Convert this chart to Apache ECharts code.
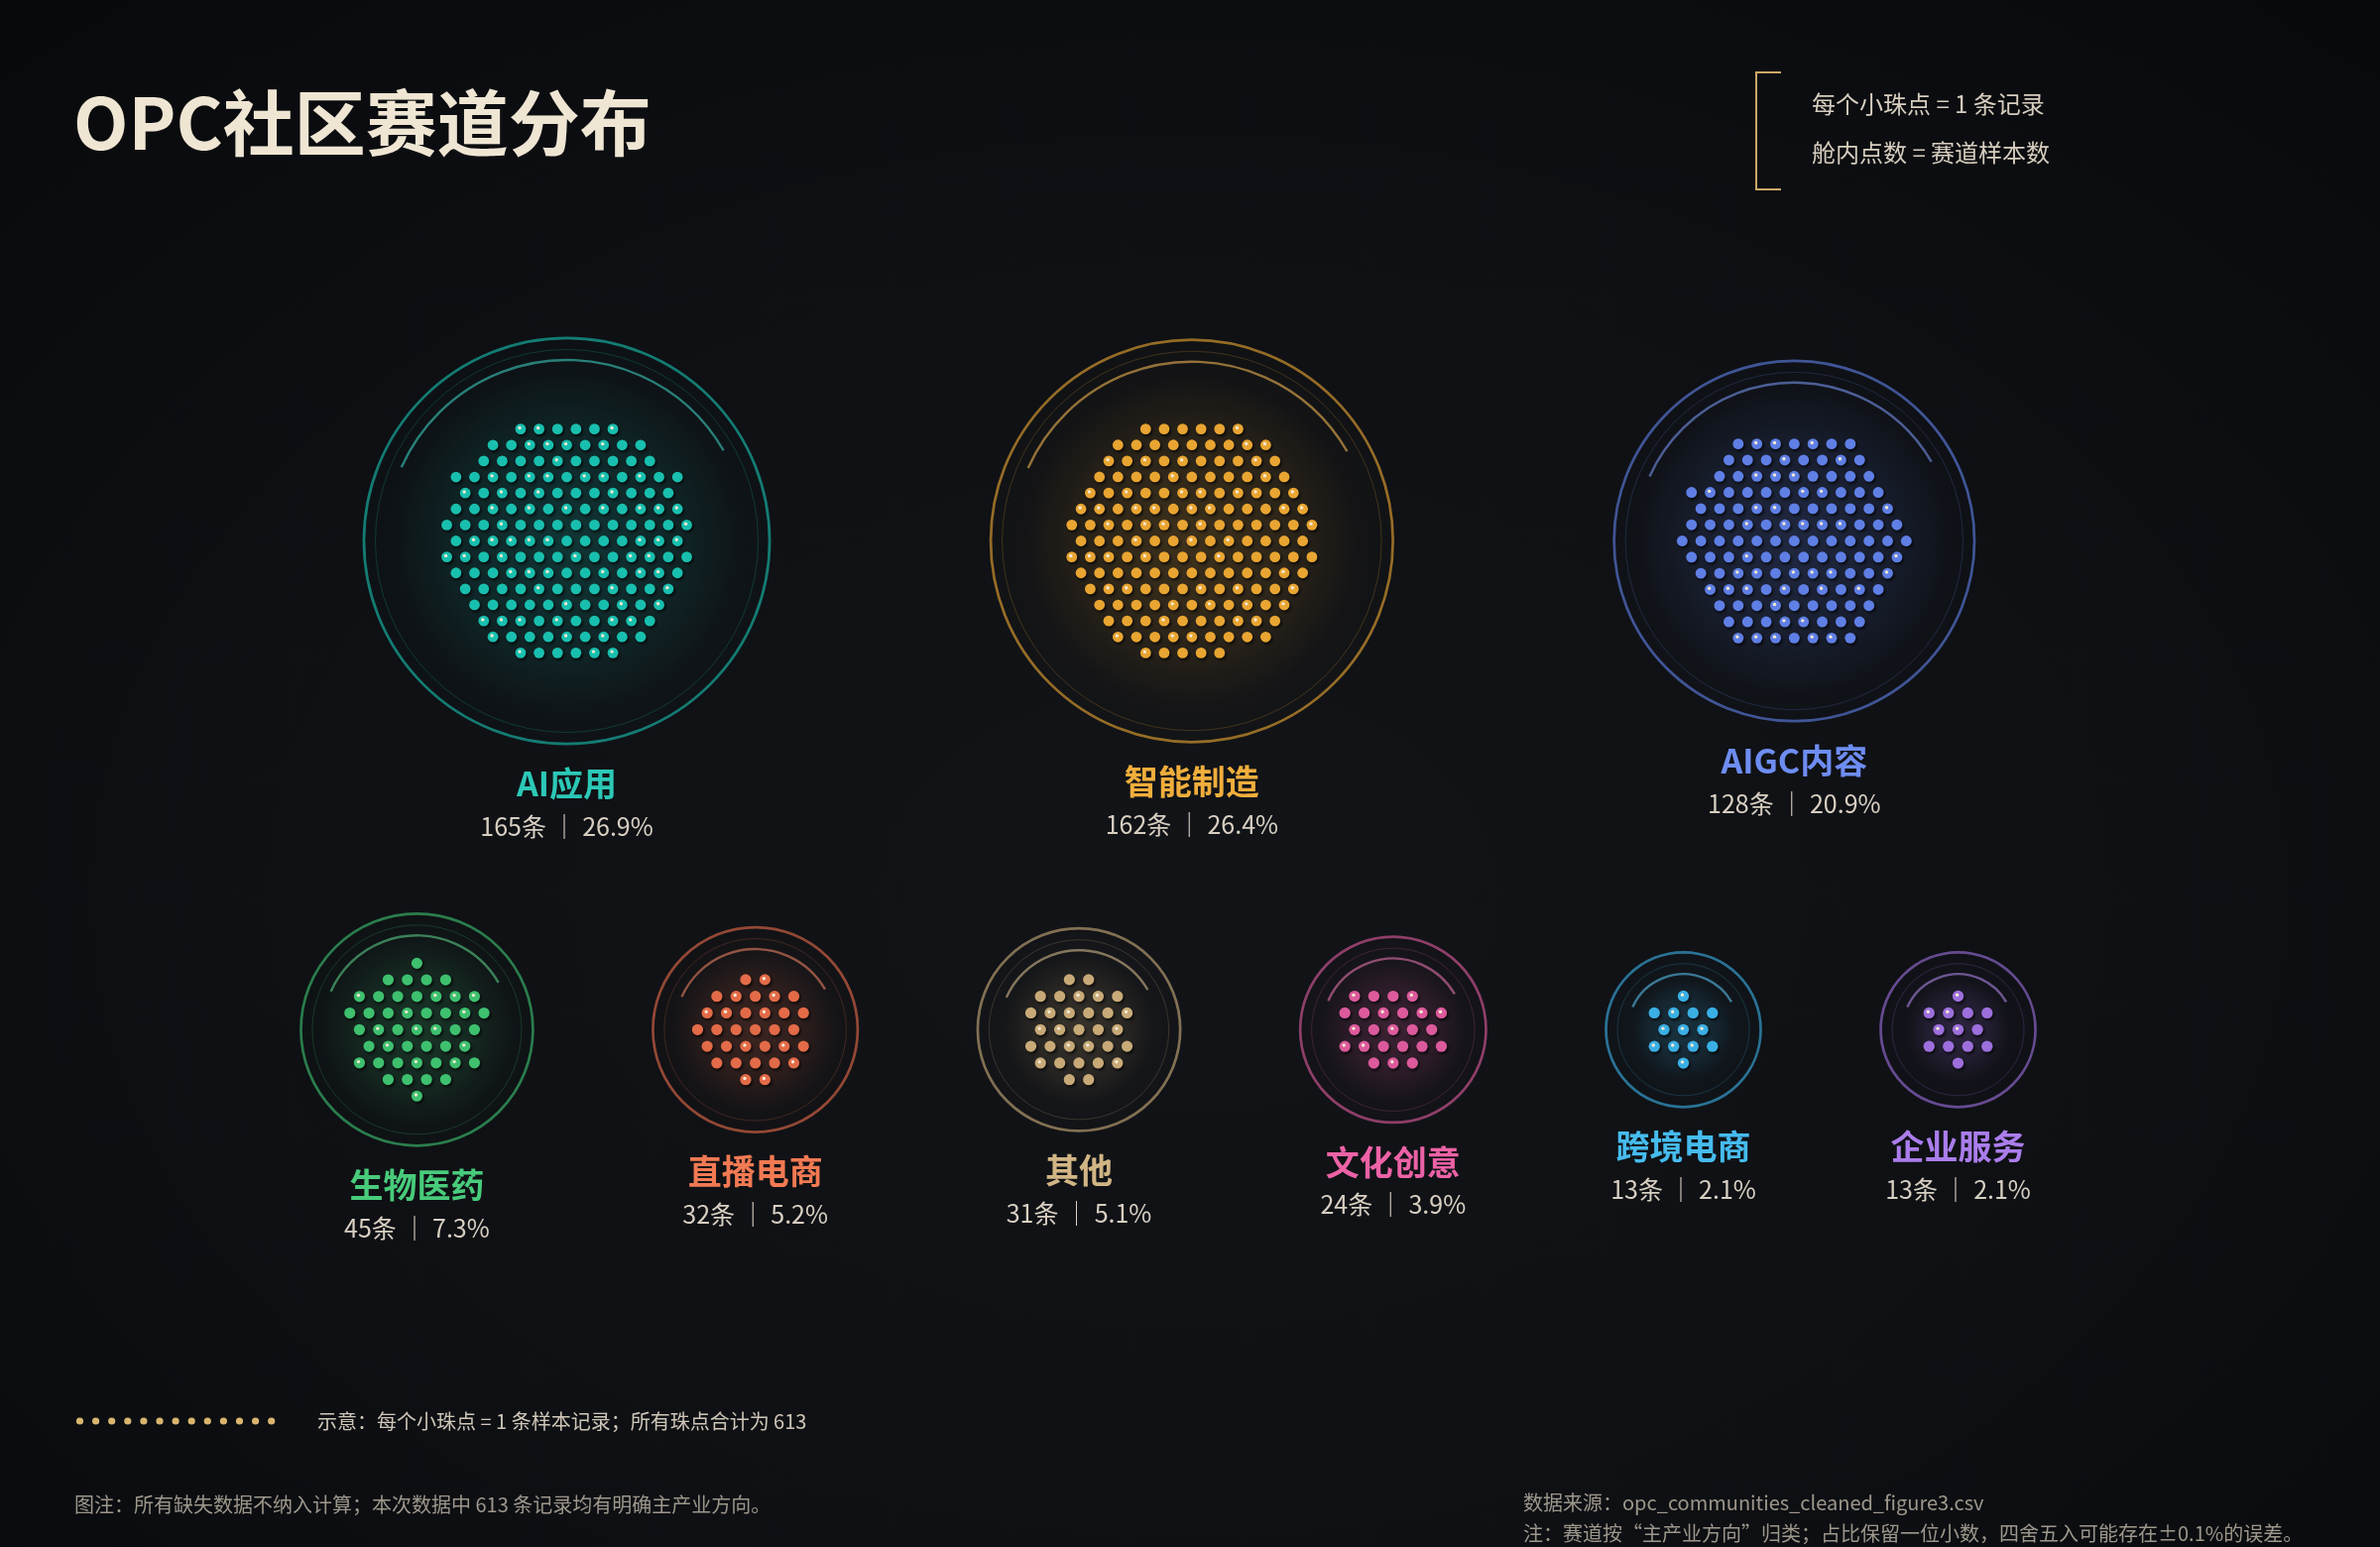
<!DOCTYPE html>
<html>
<head>
<meta charset="utf-8">
<script src="https://cdn.jsdelivr.net/npm/echarts@6/dist/echarts.min.js"></script>
<style>
html,body{margin:0;padding:0;width:2400px;height:1560px;overflow:hidden;background:#0a0b0e;}
#chart{width:2400px;height:1560px;background:radial-gradient(ellipse 75% 80% at 50% 58%, #121418 0%, #0e1014 55%, #08090b 100%);}
</style>
</head>
<body>
<div id="chart"></div>
<script>
// ---------------- data ----------------
const categories = ['AI应用', '智能制造', 'AIGC内容', '生物医药', '直播电商', '其他', '文化创意', '跨境电商', '企业服务'];
const counts = [165, 162, 128, 45, 32, 31, 24, 13, 13];
const rowOfCategory = [0, 0, 0, 1, 1, 1, 1, 1, 1];
const titleText = 'OPC社区赛道分布';
const keyLines = ['每个小珠点 = 1 条记录', '舱内点数 = 赛道样本数'];
const legendDotCount = 13;
const sourceLines = ['数据来源：opc_communities_cleaned_figure3.csv', '注：赛道按“主产业方向”归类；占比保留一位小数，四舍五入可能存在±0.1%的误差。'];

const total = counts.reduce((a, b) => a + b, 0);
const shareText = counts.map(v => (v / total * 100).toFixed(1) + '%');
const noteText = '示意：每个小珠点 = 1 条样本记录；所有珠点合计为 ' + total;
const footText = '图注：所有缺失数据不纳入计算；本次数据中 ' + total + ' 条记录均有明确主产业方向。';

// ---------------- styles ----------------
const dotColors = ['#19BFAE', '#E9A532', '#5F7FE5', '#3EC06F', '#E36B48', '#C8AA78', '#DC5A9C', '#3AAFE4', '#9D6FDD'];
const nameColors = ['#2CC8B6', '#F0AE3C', '#6E8DF2', '#48CB7B', '#F27A53', '#D1B584', '#EC62A6', '#46BBEE', '#AA7DEB'];
const FONT = '"Noto Sans CJK SC","Noto Sans",sans-serif';

function rgba(hex, a) {
  const v = parseInt(hex.slice(1), 16);
  return 'rgba(' + ((v >> 16) & 255) + ',' + ((v >> 8) & 255) + ',' + (v & 255) + ',' + a + ')';
}
function mixWhite(hex, t, a) {
  const v = parseInt(hex.slice(1), 16);
  const m = c => Math.round(c + (255 - c) * t);
  return 'rgba(' + m((v >> 16) & 255) + ',' + m((v >> 8) & 255) + ',' + m(v & 255) + ',' + a + ')';
}

// ---------------- layout ----------------
function capsuleRadius(n) { return 42.8 + 7.557 * Math.pow(n, 0.6); }
function dotPitch(n) { return 19.6 - 0.006 * n; }
const ROW_Y = [545.5, 1038.3];
const ROW_GAP = [223, 121];
const ROW_MID = [1179, 1178];

const centers = [];
for (let row = 0; row < 2; row++) {
  const idx = categories.map((_, i) => i).filter(i => rowOfCategory[i] === row);
  const radii = idx.map(i => capsuleRadius(counts[i]));
  const width = radii.reduce((a, r) => a + 2 * r, 0) + ROW_GAP[row] * (idx.length - 1);
  let x = ROW_MID[row] - width / 2;
  idx.forEach((i, j) => { x += radii[j]; centers[i] = [x, ROW_Y[row]]; x += radii[j] + ROW_GAP[row]; });
}

// hexagonal packing: nearest lattice points to the centre, one per record
function hexOffsets(n) {
  const pts = [];
  const R = Math.ceil(Math.sqrt(n)) + 2;
  for (let k = -R; k <= R; k++) {
    const odd = Math.abs(k) % 2 === 1;
    for (let j = -R; j <= R; j++) {
      const x2 = odd ? 2 * j + 1 : 2 * j;
      pts.push({ x2: x2, k: k, D: x2 * x2 + 3 * k * k });
    }
  }
  pts.sort((a, b) => a.D - b.D || Math.abs(a.k) - Math.abs(b.k) || a.k - b.k || a.x2 - b.x2);
  return pts.slice(0, n);
}
function glint(g, j) {
  let h = Math.imul(j + 1, 2654435761) ^ Math.imul(g + 7, 0x9E3779B1);
  h = Math.imul(h ^ (h >>> 15), 0x85ebca6b);
  h = (h ^ (h >>> 13)) >>> 0;
  return h % 100 < 34;
}

function textStyle(text, font, fill, align) {
  return { text: text, font: font, fill: fill, align: align || 'center', verticalAlign: 'middle', textAlign: align || 'center', textVerticalAlign: 'middle' };
}

function renderCapsule(params, api) {
  const gi = api.value(3);
  const n = api.value(2);
  const c = api.coord([api.value(0), api.value(1)]);
  const u = api.size([1, 1]);
  const r = capsuleRadius(n) * u[0];
  const pitch = dotPitch(n) * u[0];
  const dotR = pitch * 0.29;
  const col = dotColors[gi];
  const offs = hexOffsets(n);
  let ext = 0;
  offs.forEach(p => { ext = Math.max(ext, Math.sqrt(p.D) / 2 * pitch); });
  ext += dotR;
  const ch = [];
  ch.push({ type: 'circle', shape: { cx: c[0], cy: c[1], r: r },
    style: { fill: new echarts.graphic.RadialGradient(0.5, 0.5, 0.5, [
      { offset: 0, color: rgba(col, 0.09) }, { offset: 0.6, color: rgba(col, 0.035) }, { offset: 1, color: rgba(col, 0.012) }]) } });
  ch.push({ type: 'circle', shape: { cx: c[0], cy: c[1], r: ext * 1.3 },
    style: { fill: new echarts.graphic.RadialGradient(0.5, 0.5, 0.5, [
      { offset: 0, color: rgba(col, 0.14) }, { offset: 0.6, color: rgba(col, 0.09) }, { offset: 1, color: rgba(col, 0) }]) } });
  ch.push({ type: 'circle', shape: { cx: c[0], cy: c[1], r: r },
    style: { fill: 'none', stroke: rgba(col, 0.62), lineWidth: 2.7 } });
  ch.push({ type: 'circle', shape: { cx: c[0], cy: c[1], r: r - 11.5 * u[0] },
    style: { fill: 'none', stroke: rgba(col, 0.22), lineWidth: 1 } });
  ch.push({ type: 'arc', shape: { cx: c[0], cy: c[1], r: r - 22 * u[0], startAngle: -156 * Math.PI / 180, endAngle: -30 * Math.PI / 180, clockwise: true },
    style: { fill: 'none', stroke: mixWhite(col, 0.15, 0.6), lineWidth: 2.4 } });
  offs.forEach((p, j) => {
    const x = c[0] + p.x2 / 2 * pitch;
    const y = c[1] + p.k * pitch * Math.sqrt(3) / 2;
    ch.push({ type: 'circle', shape: { cx: x, cy: y, r: dotR },
      style: { fill: col, shadowColor: 'rgba(0,0,0,0.7)', shadowBlur: 3, shadowOffsetX: 1.5, shadowOffsetY: 2 } });
    if (glint(gi, j)) {
      ch.push({ type: 'circle', shape: { cx: x - 1, cy: y - 1.2, r: 1.7 }, style: { fill: '#F4EAD4' } });
    }
  });
  ch.push({ type: 'text', x: c[0], y: c[1] + r + 40, style: textStyle(categories[gi], 'bold 34px ' + FONT, nameColors[gi]) });
  ch.push({ type: 'text', x: c[0], y: c[1] + r + 83, style: textStyle(n + '条 ｜ ' + shareText[gi], '25px ' + FONT, '#D8CFC2') });
  return { type: 'group', children: ch };
}

// ---------------- decoration graphics ----------------
const graphics = [];
graphics.push({ type: 'text', x: 74, y: 124, style: textStyle(titleText, 'bold 72px ' + FONT, '#EFE5D3', 'left') });
graphics.push({ type: 'polyline', shape: { points: [[1796, 73], [1771, 73], [1771, 191], [1796, 191]] }, style: { fill: 'none', stroke: '#C9A865', lineWidth: 2 } });
keyLines.forEach((t, i) => graphics.push({ type: 'text', x: 1827, y: 105 + 49 * i, style: textStyle(t, '24px ' + FONT, '#D6CDBF', 'left') }));
for (let i = 0; i < legendDotCount; i++) {
  graphics.push({ type: 'circle', shape: { cx: 80.5 + 16.1 * i, cy: 1433, r: 3.6 }, style: { fill: '#D9B56E' } });
}
graphics.push({ type: 'text', x: 320, y: 1433, style: textStyle(noteText, '20px ' + FONT, '#CFC6B8', 'left') });
graphics.push({ type: 'text', x: 75, y: 1517, style: textStyle(footText, '20px ' + FONT, '#9D968B', 'left') });
sourceLines.forEach((t, i) => graphics.push({ type: 'text', x: 1536, y: 1515 + 31.7 * i, style: textStyle(t, '20px ' + FONT, '#9D968B', 'left') }));

const chart = echarts.init(document.getElementById('chart'), null, { renderer: 'canvas' });
chart.setOption({
  backgroundColor: 'transparent',
  animation: false,
  grid: { left: 0, right: 0, top: 0, bottom: 0 },
  xAxis: { type: 'value', min: 0, max: 2400, show: false },
  yAxis: { type: 'value', min: 0, max: 1560, inverse: true, show: false },
  series: [{
    type: 'custom',
    silent: true,
    clip: false,
    renderItem: renderCapsule,
    data: categories.map((name, i) => [centers[i][0], centers[i][1], counts[i], i])
  }],
  graphic: graphics
});
</script>
</body>
</html>
